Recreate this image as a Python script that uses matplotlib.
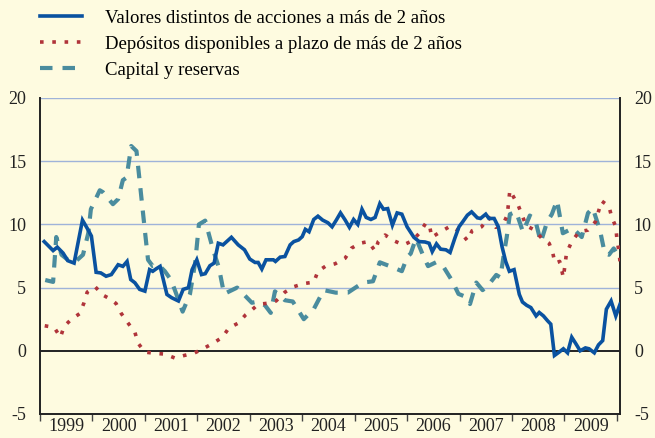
import matplotlib
matplotlib.use("Agg")
import matplotlib.pyplot as plt
from matplotlib.lines import Line2D

# Data (fractional years, % values)
valores_t = [1999.08, 1999.25, 1999.33, 1999.44, 1999.53, 1999.65, 1999.81, 1999.92, 1999.98,
             2000.07, 2000.16, 2000.26, 2000.36, 2000.49, 2000.58, 2000.66, 2000.73, 2000.81,
             2000.90, 2001.00, 2001.09, 2001.15, 2001.22, 2001.29, 2001.42, 2001.51, 2001.64,
             2001.73, 2001.83, 2001.90, 2001.99, 2002.08, 2002.15, 2002.24, 2002.32, 2002.40,
             2002.49, 2002.65, 2002.78, 2002.90, 2003.00, 2003.10, 2003.16, 2003.23, 2003.31,
             2003.45, 2003.49, 2003.58, 2003.67, 2003.77, 2003.84, 2003.93, 2004.00, 2004.06,
             2004.13, 2004.22, 2004.30, 2004.39, 2004.49, 2004.57, 2004.65, 2004.73, 2004.82,
             2004.90, 2004.98, 2005.06, 2005.14, 2005.22, 2005.31, 2005.39, 2005.48, 2005.55,
             2005.63, 2005.72, 2005.81, 2005.90, 2006.00, 2006.13, 2006.23, 2006.34, 2006.42,
             2006.48, 2006.56, 2006.64, 2006.74, 2006.82, 2006.91, 2006.99, 2007.06, 2007.15,
             2007.23, 2007.34, 2007.40, 2007.50, 2007.56, 2007.66, 2007.74, 2007.81, 2007.88,
             2007.95, 2008.04, 2008.14, 2008.20, 2008.28, 2008.36, 2008.46, 2008.52, 2008.60,
             2008.68, 2008.74, 2008.81, 2008.90, 2008.98, 2009.06, 2009.14, 2009.22, 2009.30,
             2009.40, 2009.47, 2009.57, 2009.65, 2009.73, 2009.80, 2009.89, 2009.98, 2010.06]
valores = [8.64, 7.93, 8.2, 7.73, 7.13, 6.94, 10.34, 9.55, 9.08,
           6.21, 6.16, 5.9, 6.03, 6.81, 6.68, 7.07, 5.64, 5.38,
           4.86, 4.72, 6.42, 6.29, 6.5, 6.68, 4.46, 4.2, 3.94,
           4.86, 4.99, 6.42, 7.2, 6.03, 6.1, 6.73, 6.94, 8.51,
           8.38, 8.98, 8.38, 7.99, 7.26, 6.99, 6.99, 6.47, 7.2,
           7.2, 7.07, 7.41, 7.46, 8.38, 8.64, 8.77, 9.03, 9.61,
           9.42, 10.39, 10.65, 10.34, 10.13, 9.81, 10.34, 10.91, 10.34,
           9.77, 10.39, 10.0, 11.2, 10.55, 10.39, 10.55, 11.64, 11.2,
           11.25, 9.94, 10.91, 10.81, 9.81, 8.98, 8.64, 8.61, 8.51,
           7.85, 8.46, 8.04, 7.99, 7.78, 8.9, 9.81, 10.2, 10.73,
           10.99, 10.52, 10.47, 10.81, 10.47, 10.47, 9.81, 8.25, 7.07,
           6.29, 6.42, 4.46, 3.86, 3.6, 3.42, 2.76, 3.03, 2.76,
           2.37, 2.11, -0.37, -0.1, 0.16, -0.16, 1.07, 0.55, 0.0,
           0.23, 0.16, -0.16, 0.47, 0.81, 3.29, 3.94, 2.76, 3.68]

depositos_t = [1999.09, 1999.27, 1999.39, 1999.46, 1999.60, 1999.76, 1999.84, 1999.90, 2000.05,
               2000.20, 2000.35, 2000.45, 2000.55, 2000.68, 2000.81, 2000.87, 2001.00, 2001.19,
               2001.38, 2001.57, 2001.75, 2001.94, 2002.11, 2002.30, 2002.48, 2002.60, 2002.78,
               2002.92, 2003.04, 2003.16, 2003.34, 2003.50, 2003.67, 2003.84, 2004.03, 2004.22,
               2004.30, 2004.44, 2004.63, 2004.82, 2004.94, 2005.10, 2005.26, 2005.39, 2005.45,
               2005.58, 2005.74, 2005.93, 2006.10, 2006.25, 2006.36, 2006.43, 2006.47, 2006.64,
               2006.83, 2007.01, 2007.15, 2007.24, 2007.42, 2007.56, 2007.69, 2007.83, 2007.91,
               2007.96, 2008.12, 2008.27, 2008.41, 2008.57, 2008.71, 2008.78, 2008.82, 2008.91,
               2008.98, 2009.04, 2009.14, 2009.28, 2009.45, 2009.59, 2009.71, 2009.85, 2009.90,
               2009.98, 2010.00, 2010.04, 2010.06]
depositos = [1.98, 1.85, 1.07, 1.94, 2.5, 2.95, 3.81, 4.64, 5.07,
             4.41, 4.07, 3.74, 2.95, 2.19, 1.46, 0.6, -0.1, -0.2,
             -0.26, -0.57, -0.37, -0.18, 0.16, 0.6, 1.07, 1.8, 2.19,
             2.84, 3.23, 3.68, 3.76, 3.94, 4.64, 5.07, 5.32, 5.43,
             6.29, 6.68, 6.89, 7.33, 8.12, 8.51, 8.64, 7.9, 8.64,
             9.16, 8.72, 8.38, 8.7, 9.38, 10.13, 9.87, 8.98, 9.42,
             9.87, 9.42, 8.72, 9.5, 9.81, 10.55, 9.77, 10.0, 10.73,
             12.7, 11.5, 9.9, 9.6, 8.9, 8.5, 7.7, 6.94, 7.07,
             5.8, 7.73, 8.64, 9.42, 9.55, 10.2, 11.85, 11.43, 10.6,
             9.81, 8.9, 7.85, 7.07]

capital_t = [1999.10, 1999.25, 1999.31, 1999.41, 1999.53, 1999.66, 1999.82, 1999.92, 1999.97,
             2000.14, 2000.20, 2000.39, 2000.49, 2000.58, 2000.65, 2000.74, 2000.84, 2001.00,
             2001.06, 2001.15, 2001.26, 2001.38, 2001.50, 2001.59, 2001.72, 2001.86, 2001.96,
             2002.03, 2002.15, 2002.30, 2002.41, 2002.51, 2002.76, 2003.04, 2003.16, 2003.29,
             2003.40, 2003.48, 2003.67, 2003.82, 2004.03, 2004.22, 2004.41, 2004.64, 2004.87,
             2005.16, 2005.35, 2005.48, 2005.73, 2005.90, 2006.00, 2006.07, 2006.17, 2006.30,
             2006.40, 2006.55, 2006.70, 2006.85, 2006.98, 2007.10, 2007.20, 2007.32, 2007.44,
             2007.55, 2007.70, 2007.78, 2007.84, 2007.90, 2007.96, 2008.08, 2008.21, 2008.34,
             2008.44, 2008.55, 2008.67, 2008.76, 2008.86, 2008.97, 2009.16, 2009.33, 2009.45,
             2009.54, 2009.68, 2009.77, 2009.85, 2009.94, 2010.04]
capital = [5.6, 5.45, 9.0, 7.6, 7.2, 7.0, 7.6, 9.3, 11.2,
           12.7, 12.55, 11.6, 12.0, 13.5, 13.7, 16.2, 15.8, 9.5,
           7.2, 6.7, 6.8, 6.3, 5.6, 4.6, 3.1, 4.5, 7.0,
           10.0, 10.3, 8.0, 6.6, 4.5, 5.0, 3.8, 3.9, 3.6,
           3.0, 4.7, 4.0, 3.9, 2.5, 3.3, 4.8, 4.6, 4.6,
           5.4, 5.5, 7.0, 6.6, 6.3, 7.4, 7.7, 8.9, 7.6,
           6.7, 7.0, 6.6, 5.6, 4.5, 4.3, 3.7, 5.4, 4.8,
           5.2, 6.0, 5.8, 7.5, 9.0, 10.8, 11.0, 9.4, 10.7,
           10.4, 8.6, 10.2, 10.8, 11.9, 9.3, 9.7, 9.0, 10.9,
           11.3, 9.5, 7.7, 7.6, 8.1, 7.4]

years = list(range(1999, 2010))
labels = ['Valores distintos de acciones a más de 2 años',
          'Depósitos disponibles a plazo de más de 2 años',
          'Capital y reservas']

bg = '#fefbe0'
c_blue = '#0a52a0'
c_red = '#b0343a'
c_teal = '#4a8c9e'

plt.rcParams['font.family'] = ['Liberation Serif', 'DejaVu Serif']

fig = plt.figure(figsize=(6.55, 4.38), dpi=100, facecolor=bg)
ax = fig.add_axes([40 / 655, 1 - 414 / 438, 580 / 655, 316 / 438])
ax.set_facecolor(bg)

# grid and zero line
for v in [5, 10, 15, 20]:
    ax.axhline(v, color='#9fb3d9', lw=1.0, zorder=1)
ax.axhline(0, color='#222222', lw=1.4, zorder=2)

ax.plot(capital_t, capital, color=c_teal, lw=3.0, ls=(0, (3.0, 2.4)), zorder=3)
ax.plot(depositos_t, depositos, color=c_red, lw=2.6, ls=(0, (1.0, 2.4)), zorder=4)
ax.plot(valores_t, valores, color=c_blue, lw=2.6, zorder=5, solid_joinstyle='miter')

ax.set_xlim(1999, 2010.06)
ax.set_ylim(-5, 20)

# y axis on both sides
ax.set_yticks([-5, 0, 5, 10, 15, 20])
ax.set_yticklabels(['-5', '0', '5', '10', '15', '20'])
ax.tick_params(axis='y', which='both', length=0, labelsize=13, colors='#222222',
               left=False, right=False, labelleft=True, labelright=True, pad=10)

# x axis: tick marks at year boundaries, labels centred
ax.set_xticks([y for y in years] + [2010])
ax.set_xticklabels([])
ax.set_xticks([y + 0.5 for y in years], minor=True)
ax.set_xticklabels([str(y) for y in years], minor=True)
ax.tick_params(axis='x', which='major', length=5, width=1.0, direction='out', colors='#444444')
ax.tick_params(axis='x', which='minor', length=0, labelsize=13, labelcolor='#222222', pad=3)

for s in ['left', 'right', 'bottom']:
    ax.spines[s].set_color('#222222')
    ax.spines[s].set_linewidth(1.4)
ax.spines['top'].set_visible(False)

# legend
handles = [Line2D([], [], color=c_blue, lw=2.6),
           Line2D([], [], color=c_red, lw=2.6, ls=(0, (1.0, 2.4))),
           Line2D([], [], color=c_teal, lw=3.0, ls=(0, (3.0, 2.4)))]
fig.legend(handles, labels, loc='upper left', bbox_to_anchor=(32.5 / 655, 1 - 2 / 438),
           borderaxespad=0, frameon=False, fontsize=13.5, handlelength=2.24,
           handletextpad=1.23, labelspacing=0.48)

fig.savefig('out.png', dpi=100, facecolor=bg)
